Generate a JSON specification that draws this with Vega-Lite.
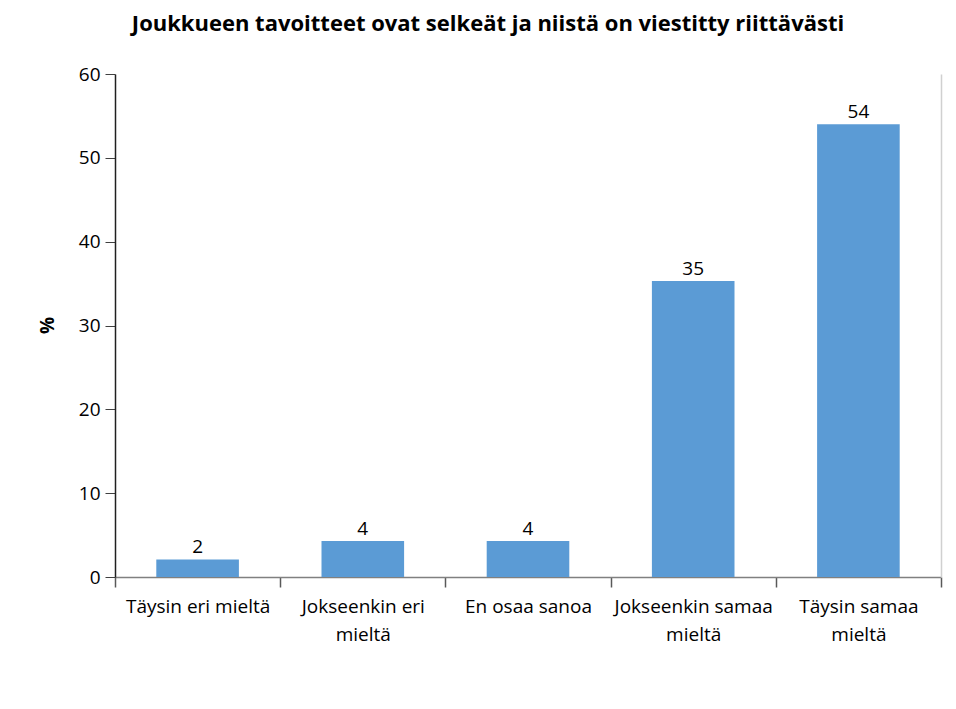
{
  "$schema": "https://vega.github.io/schema/vega-lite/v6.json",
  "autosize": "none",
  "width": 826,
  "height": 503,
  "padding": {"left": 115, "top": 74, "right": 15, "bottom": 132},
  "background": "white",
  "title": {
    "text": "Joukkueen tavoitteet ovat selkeät ja niistä on viestitty riittävästi",
    "font": "Open Sans",
    "fontSize": 22,
    "fontWeight": "bold",
    "color": "#000000",
    "anchor": "middle",
    "dx": -40,
    "offset": 29
  },
  "config": {
    "view": {"stroke": null},
    "font": "Open Sans"
  },
  "data": {
    "values": [
      {"category": "Täysin eri mieltä", "value": 2.1, "label": "2"},
      {"category": "Jokseenkin eri mieltä", "value": 4.3, "label": "4"},
      {"category": "En osaa sanoa", "value": 4.3, "label": "4"},
      {"category": "Jokseenkin samaa mieltä", "value": 35.3, "label": "35"},
      {"category": "Täysin samaa mieltä", "value": 54, "label": "54"}
    ]
  },
  "layer": [
    {
      "mark": {"type": "bar", "color": "#5B9BD5", "width": {"band": 0.5}},
      "encoding": {
        "x": {
          "field": "category",
          "type": "nominal",
          "sort": null,
          "scale": {"paddingInner": 0, "paddingOuter": 0},
          "axis": {
            "title": null,
            "labelAngle": 0,
            "labelFont": "Open Sans",
            "labelFontSize": 19,
            "labelColor": "#000000",
            "labelPadding": 10,
            "labelLineHeight": 28,
            "labelExpr": "length(datum.label) > 17 ? [substring(datum.label, 0, lastindexof(datum.label, ' ')), substring(datum.label, lastindexof(datum.label, ' ') + 1)] : datum.label",
            "tickBand": "extent",
            "tickSize": 10,
            "tickColor": "#595959",
            "domainColor": "#808080",
            "domainWidth": 1.5,
            "tickWidth": 1.5
          }
        },
        "y": {
          "field": "value",
          "type": "quantitative",
          "scale": {"domain": [0, 60]},
          "axis": {
            "title": "%",
            "titleFont": "Open Sans",
            "titleFontSize": 19,
            "titleFontWeight": "bold",
            "titleColor": "#000000",
            "titleX": -58,
            "titleY": 251,
            "titleAngle": 270,
            "values": [0, 10, 20, 30, 40, 50, 60],
            "grid": false,
            "labelFont": "Open Sans",
            "labelFontSize": 19,
            "labelColor": "#000000",
            "labelPadding": 5,
            "tickSize": 10,
            "tickColor": "#404040",
            "domainColor": "#202020",
            "domainWidth": 1.5
          }
        }
      }
    },
    {
      "mark": {"type": "text", "baseline": "bottom", "dy": -2, "font": "Open Sans", "fontSize": 19, "color": "#000000"},
      "encoding": {
        "x": {"field": "category", "type": "nominal", "sort": null},
        "y": {"field": "value", "type": "quantitative", "axis": null},
        "text": {"field": "label"}
      }
    },
    {
      "mark": {"type": "rule", "opacity": 0},
      "encoding": {
        "x": {"field": "category", "type": "nominal", "sort": null},
        "y": {
          "field": "value",
          "type": "quantitative",
          "axis": {
            "orient": "right",
            "title": null,
            "labels": false,
            "ticks": false,
            "grid": false,
            "domainColor": "#d0d0d0",
            "domainWidth": 1.5
          }
        }
      }
    }
  ],
  "resolve": {"axis": {"y": "independent"}}
}
